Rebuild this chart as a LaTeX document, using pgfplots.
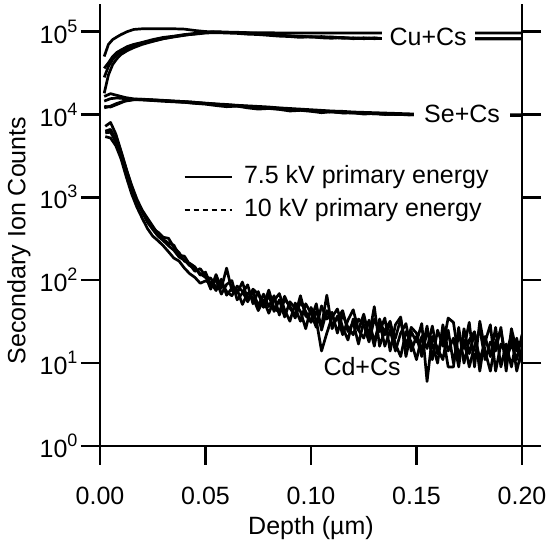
\documentclass[border=0pt]{standalone}
\usepackage{fontspec}
\setmainfont{Liberation Sans}
\usepackage{pgfplots}
\usepackage{pgfplotstable}
\pgfplotsset{compat=1.18}

\newcommand\tp[1]{10\raisebox{11bp}{\fontsize{18bp}{18bp}\selectfont #1}}

% Cu+Cs profiles
\pgfplotstableread{
x      a       b      c      d
0.002  50000   18000  28000  36000
0.004  70000   30000  38000  42000
0.006  80000   40000  46000  50000
0.008  86000   47000  52000  56000
0.010  92000   53000  57000  60000
0.013  100000  59000  62000  66000
0.016  106000  64000  67000  70000
0.020  108000  70000  72000  74000
0.025  108000  76000  77000  80000
0.030  108000  82000  82000  85000
0.035  108000  86000  87000  88000
0.040  107000  90000  91000  92000
0.045  103000  94000  93000  95000
0.050  100000  97000  96000  98000
0.055  99000   99000  97000  99000
0.060  98000   98000  96000  98000
0.065  98000   97000  95000  97000
0.070  97000   96000  93000  96000
0.075  97000   94000  92000  95000
0.080  97000   92000  90000  92000
0.085  96000   90000  88000  91000
0.090  96000   89000  87000  88000
0.095  96000   87000  85000  88000
0.100  96000   86000  87000  86000
0.105  96000   85000  84000  87000
0.110  96000   86000  83000  85000
0.115  96000   84000  85000  83000
0.120  96000   83000  82000  84000
0.125  96000   84000  83000  82000
0.130  96000   82000  84000  83000
0.135  96000   83000  82000  82000
0.150  96000   82000  82000  82000
0.200  96000   82000  82000  82000
}\cu

% Se+Cs profiles
\pgfplotstableread{
x      a      b      c      d
0.002  16500  12500  14500  12000
0.005  17800  12300  15500  12600
0.008  17000  13200  15800  13600
0.012  16000  14500  15500  14600
0.016  15400  15000  15200  15200
0.020  15200  15000  15000  15300
0.025  15000  14800  14700  15000
0.030  14700  14700  14400  14800
0.035  14500  14300  14200  14500
0.040  14300  14000  14000  14300
0.045  14000  13700  13600  14000
0.050  13700  13500  13300  13600
0.055  13400  13300  12800  13300
0.060  13200  12800  12400  13000
0.065  12900  12600  12600  12800
0.070  12700  12400  12000  12500
0.075  12500  12300  11600  12300
0.080  12300  12000  11800  12000
0.085  12000  11600  11500  11900
0.090  11800  11500  11000  11600
0.095  11600  11300  11200  11400
0.100  11400  11100  10900  11100
0.105  11200  10800  10500  11000
0.110  11000  10700  10800  10800
0.115  10900  10500  10400  10600
0.120  10700  10400  10500  10500
0.125  10600  10300  10100  10300
0.130  10500  10200  10300  10200
0.135  10400  10100  10000  10100
0.140  10300  10000  10100  10000
0.145  10200  9950   9900   9950
0.150  10100  9900   10000  9900
0.200  9900   9700   9700   9700
}\se

% Cd+Cs profiles
\pgfplotstableread{
x       a     b     c     d
0.0025  7200  6000  5400  6300
0.0050  8000  6100  5200  6600
0.0075  5800  4700  4200  5000
0.0100  3600  3300  2900  3500
0.0125  2200  2100  1750  2150
0.0150  1350  1320  1100  1400
0.0175  900   880   760   950
0.0200  660   680   560   700
0.0225  500   530   420   560
0.0250  410   420   340   450
0.0275  340   380   300   360
0.0300  300   330   260   310
0.0325  260   320   220   280
0.0350  230   250   185   265
0.0375  190   215   170   200
0.0400  175   170   140   195
0.0425  150   160   120   155
0.0450  138   145   108   128
0.0475  120   115   92    138
0.0500  108   125   98    112
0.0525  106   88    93    78
0.0550  81    100   75    117
0.0575  95    68    103   80
0.0600  73    89    66    140
0.0625  65    99    80    75
0.0650  85    58    77    70
0.0675  74    70    51    95
0.0700  55    88    70    58
0.0725  74    52    62    78
0.0750  49    73    43    68
0.0775  68    47    58    50
0.0800  48    66    40    76
0.0825  65    42    57    46
0.0850  38    58    69    41
0.0875  59    36    44    64
0.0900  49    55    32    46
0.0925  35    46    53    38
0.0950  55    32    42    65
0.0975  42    52    26    37
0.1000  31    40    47    33
0.1025  42    27    33    52
0.1050  28    49    14    25
0.1075  66    34    23    43
0.1100  26    41    36    29
0.1125  37    23    45    35
0.1150  22    39    27    43
0.1175  33    27    19    24
0.1200  44    22    34    31
0.1225  25    34    25    17
0.1250  20    29    39    32
0.1275  33    18    21    30
0.1300  18    34    48    16
0.1325  31    24    16    34
0.1350  16    35    25    22
0.1375  25    14    32    29
0.1400  14    29    17    20
0.1425  23    36    12    34
0.1450  30    12    24    16
0.1475  14    24    18    27
0.1500  21    18    11    23
0.1525  12    30    21    14
0.1550  24    6     15    28
0.1575  17    21    28    11
0.1600  10    15    13    25
0.1625  29    11    22    16
0.1650  14    25    9     35
0.1675  20    10    9     31
0.1700  9     22    27    12
0.1725  26    15    10    19
0.1750  13    31    19    9
0.1775  23    9     24    16
0.1800  11    32    8     26
0.1825  18    14    21    11
0.1850  29    8     12    18
0.1875  8     18    27    14
0.1900  17    25    9     27
0.1925  13    11    17    8
0.1950  22    17    9     26
0.1975  8     11    20    14
0.2000  15    22    10    19
}\cd

\begin{document}
\begin{tikzpicture}
\begin{axis}[
    name=ax,
    scale only axis,
    width=422bp, height=442bp,
    xmin=0, xmax=0.2,
    ymode=log, ymin=1, ymax=215000,
    axis x line*=bottom,
    axis y line*=box,
    axis line style={-, line width=2.5bp, black},
    x axis line style={line width=2.5bp},
    y axis line style={line width=2.5bp},
    tick align=outside,
    major tick length=19bp,
    tick style={black, line width=2.5bp},
    xtick={0,0.05,0.1,0.15,0.2},
    xticklabels={0.00,0.05,0.10,0.15,0.20},
    xticklabel style={yshift=-19bp},
    ytick={1,10,100,1000,10000,100000},
    yticklabels={\tp{0},\tp{1},\tp{2},\tp{3},\tp{4},\tp{5}},
    yticklabel pos=left,
    xminorticks=false, yminorticks=false,
    tick label style={font=\fontsize{25bp}{30bp}\selectfont},
    label style={font=\fontsize{25bp}{30bp}\selectfont},
    xlabel={Depth (µm)},
    ylabel={Secondary Ion Counts},
    xlabel style={at={(axis description cs:0.5,0)}, anchor=center, yshift=-82bp},
    ylabel style={at={(axis description cs:-0.192,0.465)}, anchor=center},
    legend style={draw=none, fill=none, at={(axis description cs:0.197,0.571)},
        anchor=west, inner sep=0pt, column sep=11bp, row sep=10bp,
        font=\fontsize{25bp}{30bp}\selectfont,
        nodes={inner sep=0pt, text height=18bp, text depth=5bp}},
    legend cell align=left,
    legend image code/.code={\draw[#1] (0bp,0bp) -- (47bp,0bp);},
]
\foreach \c in {a,b,c,d} {
    \addplot[black, line width=2.7bp, line join=round, forget plot] table[x=x, y=\c] {\cu};
    \addplot[black, line width=2.7bp, line join=round, forget plot] table[x=x, y=\c] {\se};
    \addplot[black, line width=2.7bp, line join=round, forget plot] table[x=x, y=\c] {\cd};
}
\addlegendimage{black, line width=2.7bp}
\addlegendentry{7.5 kV primary energy}
\addlegendimage{black, line width=2.7bp, dash pattern=on 5bp off 4bp}
\addlegendentry{10 kV primary energy}

\node[fill=white, inner xsep=8bp, inner ysep=2bp, font=\fontsize{25bp}{30bp}\selectfont]
    at (axis cs:0.1555,87000) {Cu+Cs};
\node[fill=white, inner xsep=10bp, inner ysep=2bp, font=\fontsize{25bp}{30bp}\selectfont]
    at (axis cs:0.1716,10200) {Se+Cs};
\node[font=\fontsize{25bp}{30bp}\selectfont, inner sep=1bp]
    at (axis cs:0.1242,9.0) {Cd+Cs};
\end{axis}
\pgfresetboundingbox
\path[use as bounding box] (ax.south west) ++(-100bp,-94bp) rectangle ++(550bp,540bp);
\end{tikzpicture}
\end{document}
